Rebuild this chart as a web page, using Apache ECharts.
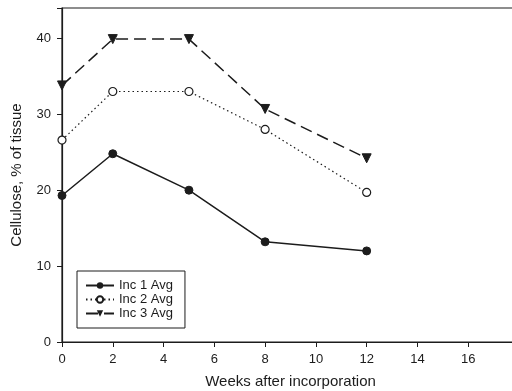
<!DOCTYPE html>
<html><head><meta charset="utf-8">
<script src="https://cdn.jsdelivr.net/npm/echarts@6/dist/echarts.min.js"></script>
<style>html,body{margin:0;padding:0;background:#fff;overflow:hidden}#c{width:512px;height:391px}</style>
</head><body><div id="c"></div>
<script>
const weeks = [0, 2, 5, 8, 12];
const inc1 = [19.3, 24.8, 20.0, 13.2, 12.0];
const inc2 = [26.6, 33.0, 33.0, 28.0, 19.7];
const inc3 = [33.8, 39.9, 39.9, 30.7, 24.2];
const seriesNames = ['Inc 1 Avg', 'Inc 2 Avg', 'Inc 3 Avg'];
const xTitle = 'Weeks after incorporation';
const yTitle = 'Cellulose, % of tissue';
const ink = '#1c1c1c';
const pairs = v => weeks.map((w, i) => [w, v[i]]);
const chart = echarts.init(document.getElementById('c'));
chart.setOption({
  animation: false,
  grid: {left: 62, top: 8, width: 457, height: 334, outerBoundsMode: 'none', containLabel: false,
    show: true, borderColor: ink, borderWidth: 1.2},
  xAxis: {type: 'value', min: 0, max: 18, interval: 2,
    name: xTitle, nameLocation: 'middle', nameGap: 32,
    nameTextStyle: {fontFamily: 'Liberation Sans', fontSize: 15, color: ink},
    axisLine: {lineStyle: {color: ink, width: 1.2}},
    axisTick: {show: true, length: 5, lineStyle: {color: ink}},
    axisLabel: {fontFamily: 'Liberation Sans', fontSize: 13, color: ink, margin: 11,
      formatter: v => v >= 18 ? '' : String(v)},
    splitLine: {show: false}},
  yAxis: {type: 'value', min: 0, max: 44, interval: 10,
    name: yTitle, nameLocation: 'middle', nameGap: 38,
    nameTextStyle: {fontFamily: 'Liberation Sans', fontSize: 15, color: ink},
    axisLine: {show: true, lineStyle: {color: ink, width: 1.2}},
    axisTick: {show: true, length: 5, lineStyle: {color: ink}},
    axisLabel: {fontFamily: 'Liberation Sans', fontSize: 13, color: ink, margin: 11,
      formatter: v => v > 40 ? '' : String(v)},
    splitLine: {show: false}},
  legend: {orient: 'vertical', left: 77, top: 271, itemWidth: 28, itemHeight: 8, itemGap: 1,
    padding: [8, 12, 8, 8], borderColor: ink, borderWidth: 1, backgroundColor: '#fff',
    textStyle: {fontFamily: 'Liberation Sans', fontSize: 13, color: ink},
    data: seriesNames},
  series: [
    {name: seriesNames[0], type: 'line', data: pairs(inc1), symbol: 'circle', symbolSize: 8,
      itemStyle: {color: ink, borderColor: ink}, lineStyle: {color: ink, width: 1.5, type: 'solid'}},
    {name: seriesNames[1], type: 'line', data: pairs(inc2), symbol: 'circle', symbolSize: 8,
      itemStyle: {color: '#fff', borderColor: ink, borderWidth: 1.2}, lineStyle: {color: ink, width: 1.2, type: [1.5, 3]}},
    {name: seriesNames[2], type: 'line', data: pairs(inc3), symbol: 'triangle', symbolSize: 9, symbolRotate: 180,
      itemStyle: {color: ink, borderColor: ink}, lineStyle: {color: ink, width: 1.5, type: [12, 6]}}
  ]
});
</script></body></html>
